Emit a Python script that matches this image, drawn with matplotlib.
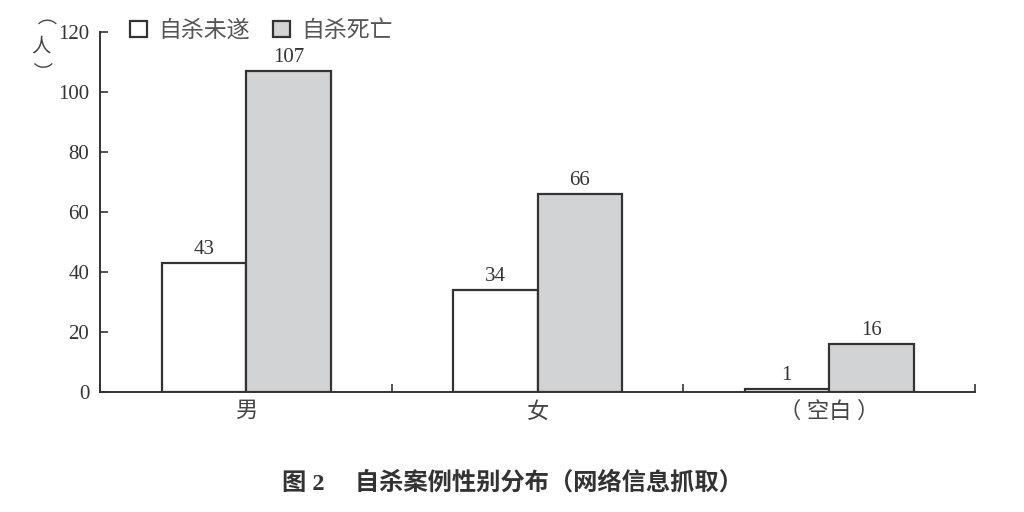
import matplotlib
matplotlib.use("Agg")
import matplotlib.pyplot as plt
import numpy as np

# dados
categorias = ["男", "女", "（ 空白 ）"]
series = ["自杀未遂", "自杀死亡"]
valores_tentativa = [43, 34, 1]
valores_morte = [107, 66, 16]
yticks = [0, 20, 40, 60, 80, 100, 120]

fonte = ["Liberation Serif", "Noto Sans CJK SC", "DejaVu Sans"]
plt.rcParams["font.family"] = fonte

fig = plt.figure(figsize=(10.24, 5.12), dpi=100)
ax = fig.add_axes([0.098, 0.234, 0.854, 0.7035])

x = np.arange(len(categorias))
w = 0.29
b1 = ax.bar(x - w / 2, valores_tentativa, w, color="white", edgecolor="#333333",
            linewidth=1.6, label=series[0])
b2 = ax.bar(x + w / 2, valores_morte, w, color="#d2d3d4", edgecolor="#333333",
            linewidth=1.6, label=series[1])

for barras in (b1, b2):
    for r in barras:
        ax.text(r.get_x() + r.get_width() / 2, r.get_height() + 1.5,
                str(int(r.get_height())), ha="center", va="bottom",
                fontsize=15, color="#333333")

ax.set_xlim(-0.5, 2.5)
ax.set_ylim(0, 120)
ax.set_yticks(yticks)
ax.set_yticklabels([str(v) for v in yticks], fontsize=15, color="#333333")
ax.set_xticks([-0.5, 0.5, 1.5, 2.5])
ax.set_xticklabels([])
ax.set_xticks(x, minor=True)
ax.set_xticklabels(categorias, minor=True, fontsize=16, color="#444444")
ax.tick_params(axis="x", which="major", direction="in", length=6, width=1.2, color="#333333")
ax.tick_params(axis="x", which="minor", length=0, pad=7)
ax.tick_params(axis="y", direction="in", length=6, width=1.2, color="#333333", pad=8)

for lado in ("top", "right"):
    ax.spines[lado].set_visible(False)
for lado in ("left", "bottom"):
    ax.spines[lado].set_linewidth(1.4)
    ax.spines[lado].set_color("#333333")

# rótulo do eixo y: parênteses girados, 人 em pé
fig.text(0.030, 0.945, "（", rotation=-90, ha="center", va="center",
         fontsize=14, color="#444444", family=fonte)
fig.text(0.040, 0.908, "人", ha="center", va="center",
         fontsize=14, color="#444444", family=fonte)
fig.text(0.038, 0.862, "）", rotation=-90, ha="center", va="center",
         fontsize=14, color="#444444", family=fonte)

ax.legend(loc="upper left", bbox_to_anchor=(0.01, 1.09), ncol=2, frameon=False,
          fontsize=16.5, handlelength=0.75, handleheight=0.75, columnspacing=1.0,
          handletextpad=0.5, labelcolor="#555555")

fig.text(0.5, 0.057, "图 2　 自杀案例性别分布（网络信息抓取）", ha="center", va="center",
         fontsize=17.5, fontweight="bold", color="#333333", family=fonte)

fig.savefig("out.png", dpi=100)
